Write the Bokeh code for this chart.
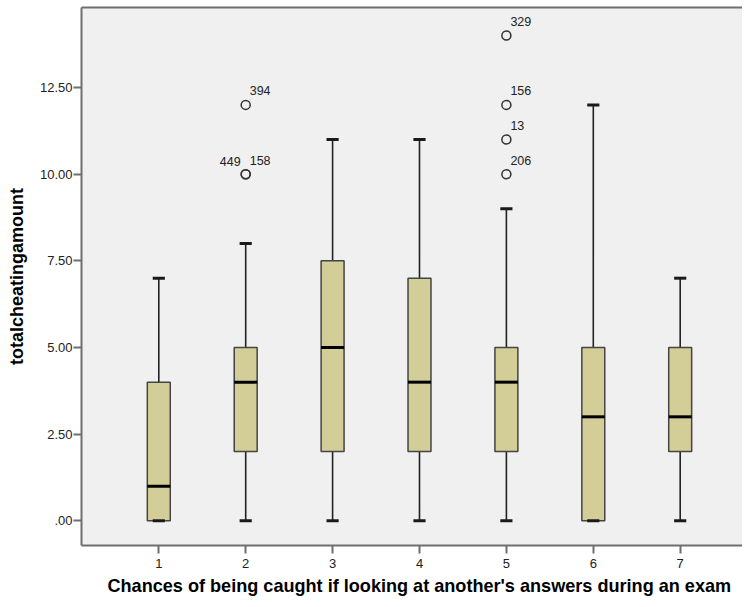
from bokeh.plotting import figure
from bokeh.models import ColumnDataSource, FixedTicker, LinearAxis, Range1d, Title
from bokeh.embed import file_html
from bokeh.resources import INLINE
from bokeh.core.properties import value

# ---- data ----
groups = [1, 2, 3, 4, 5, 6, 7]
whisker_low = [0, 0, 0, 0, 0, 0, 0]
q1 = [0, 2, 2, 2, 2, 0, 2]
median = [1, 4, 5, 4, 4, 3, 3]
q3 = [4, 5, 7.5, 7, 5, 5, 5]
whisker_high = [7, 8, 11, 11, 9, 12, 7]

outlier_group = [2, 2, 2, 5, 5, 5, 5]
outlier_value = [12, 10, 10, 14, 12, 11, 10]
outlier_id = ["394", "449", "158", "329", "156", "13", "206"]
outlier_label_side = ["right", "left", "right", "right", "right", "right", "right"]

y_ticks = [0, 2.5, 5, 7.5, 10, 12.5]
y_tick_labels = [".00", "2.50", "5.00", "7.50", "10.00", "12.50"]
x_tick_labels = ["1", "2", "3", "4", "5", "6", "7"]

x_title = "Chances of being caught if looking at another's answers during an exam"
y_title = "totalcheatingamount"

# ---- styling ----
FONT = "Liberation Sans"
BOX_FILL = "#d3ce97"
AXIS_GRAY = "#6f6f6f"
half_box = 0.132
half_cap = 0.07

p = figure(width=742, height=599, output_backend="svg", toolbar_location=None,
           x_range=Range1d(0.1105, 7.717), y_range=Range1d(-0.713, 14.81),
           min_border_left=81, min_border_right=0, min_border_top=7,
           min_border_bottom=54)
p.background_fill_color = "#f0f0f0"
p.border_fill_color = "white"
p.outline_line_color = None
p.grid.visible = False

src = ColumnDataSource(dict(
    x=groups,
    left=[g - half_box for g in groups],
    right=[g + half_box for g in groups],
    cap_l=[g - half_cap for g in groups],
    cap_r=[g + half_cap for g in groups],
    lo=whisker_low, q1=q1, med=median, q3=q3, hi=whisker_high,
))

# whiskers
p.segment(x0="x", y0="q3", x1="x", y1="hi", source=src, line_color="#222222", line_width=1.6)
p.segment(x0="x", y0="q1", x1="x", y1="lo", source=src, line_color="#222222", line_width=1.6)
# boxes
p.quad(left="left", right="right", bottom="q1", top="q3", source=src,
       fill_color=BOX_FILL, line_color="#444444", line_width=1.5)
# caps
p.segment(x0="cap_l", y0="hi", x1="cap_r", y1="hi", source=src, line_color="#1a1a1a", line_width=3)
p.segment(x0="cap_l", y0="lo", x1="cap_r", y1="lo", source=src, line_color="#1a1a1a", line_width=3)
# medians
p.segment(x0="left", y0="med", x1="right", y1="med", source=src, line_color="black", line_width=3)

# outliers
osrc = ColumnDataSource(dict(x=outlier_group, y=outlier_value))
p.scatter(x="x", y="y", source=osrc, marker="circle", size=9,
          fill_color=None, line_color="#333333", line_width=1.5)

r_x = [g for g, s in zip(outlier_group, outlier_label_side) if s == "right"]
r_y = [v for v, s in zip(outlier_value, outlier_label_side) if s == "right"]
r_t = [t for t, s in zip(outlier_id, outlier_label_side) if s == "right"]
l_x = [g for g, s in zip(outlier_group, outlier_label_side) if s == "left"]
l_y = [v for v, s in zip(outlier_value, outlier_label_side) if s == "left"]
l_t = [t for t, s in zip(outlier_id, outlier_label_side) if s == "left"]

p.text(x=r_x, y=r_y, text=r_t, x_offset=4, y_offset=-14, text_align="left",
       text_baseline="middle", text_font=value(FONT), text_font_size="12.5px",
       text_color="#222222")
p.text(x=l_x, y=l_y, text=l_t, x_offset=-5, y_offset=-13, text_align="right",
       text_baseline="middle", text_font=value(FONT), text_font_size="12.5px",
       text_color="#222222")

# axes
for ax in (p.xaxis[0], p.yaxis[0]):
    ax.axis_line_color = AXIS_GRAY
    ax.axis_line_width = 2
    ax.major_tick_line_color = AXIS_GRAY
    ax.major_tick_line_width = 2
    ax.major_tick_out = 8
    ax.major_tick_in = 0
    ax.minor_tick_line_color = None
    ax.major_label_text_font = FONT
    ax.major_label_text_font_size = "13px"
    ax.major_label_text_color = "#222222"
    ax.axis_label_text_font = FONT
    ax.axis_label_text_font_size = "18px"
    ax.axis_label_text_font_style = "bold"
    ax.axis_label_text_color = "black"

p.xaxis[0].ticker = FixedTicker(ticks=groups)
p.xaxis[0].major_label_overrides = {g: t for g, t in zip(groups, x_tick_labels)}
p.xaxis[0].major_label_standoff = 5

p.yaxis[0].ticker = FixedTicker(ticks=y_ticks)
p.yaxis[0].major_label_overrides = {t: l for t, l in zip(y_ticks, y_tick_labels)}
p.yaxis[0].axis_label = y_title
p.yaxis[0].major_label_standoff = 1
p.yaxis[0].axis_label_standoff = 10

top = LinearAxis(ticker=FixedTicker(ticks=[]), axis_line_color=AXIS_GRAY, axis_line_width=2,
                 major_tick_line_color=None, minor_tick_line_color=None,
                 major_label_text_font_size="0px", major_tick_out=0, major_tick_in=0)
p.add_layout(top, "above")

xt = Title(text=x_title, align="left", offset=26, standoff=6,
           text_font=FONT, text_font_size="18.1px", text_font_style="bold",
           text_color="black")
p.add_layout(xt, "below")

open("out.html", "w").write(file_html(p, INLINE))
